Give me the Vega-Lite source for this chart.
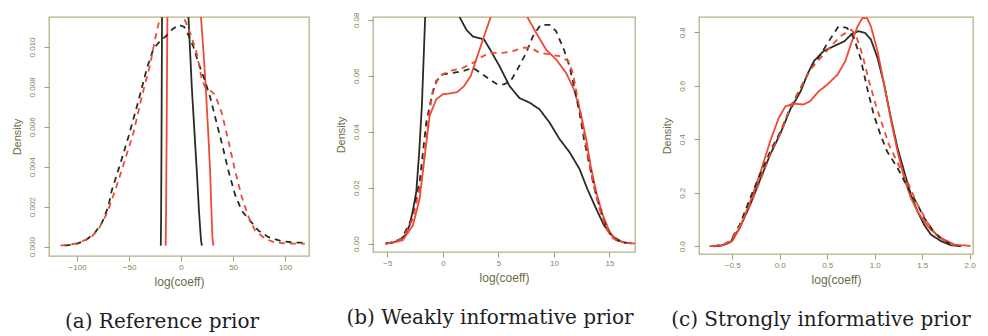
{
  "$schema": "https://vega.github.io/schema/vega-lite/v6.json",
  "background": "white",
  "padding": {"left": 10, "top": 11, "right": 0, "bottom": 0},
  "bounds": "flush",
  "spacing": 64,
  "config": {
    "view": {"stroke": "#b3b386", "strokeWidth": 1.3},
    "font": "Liberation Sans",
    "axis": {"domain": false, "grid": false, "tickColor": "#a0a070", "tickSize": 5, "labelColor": "#85855a", "labelFontSize": 8, "labelFont": "Liberation Sans", "titleColor": "#6b6b48", "titleFontSize": 12, "titleFontWeight": "normal", "titleFont": "Liberation Sans"},
    "axisX": {"labelPadding": 2, "titlePadding": 5},
    "axisY": {"labelAngle": -90, "labelAlign": "center", "labelBaseline": "bottom", "labelPadding": 8, "titlePadding": 6, "titleFontSize": 11},
    "title": {"font": "DejaVu Serif", "fontSize": 20, "fontWeight": "normal", "color": "#1e1e1e", "orient": "bottom", "offset": 25}
  },
  "datasets": {
    "d": [
      {"p":"a","s":"bs","x":-19.5,"y":0.00005},{"p":"a","s":"bs","x":-19.2,"y":0.0015},{"p":"a","s":"bs","x":-18.9,"y":0.0045},{"p":"a","s":"bs","x":-18.6,"y":0.008},{"p":"a","s":"bs","x":-18.3,"y":0.0118},{"p":"a","s":"bs","x":-15,"y":0.022},{"p":"a","s":"bs","x":-5,"y":0.035},{"p":"a","s":"bs","x":3,"y":0.02},{"p":"a","s":"bs","x":7,"y":0.0116},{"p":"a","s":"bs","x":10.3,"y":0.008},{"p":"a","s":"bs","x":12.8,"y":0.0058},{"p":"a","s":"bs","x":15.1,"y":0.0038},{"p":"a","s":"bs","x":17.3,"y":0.0017},{"p":"a","s":"bs","x":19.2,"y":0.0003},{"p":"a","s":"bs","x":20,"y":0.00005},
      {"p":"a","s":"rs","x":-14.8,"y":0.00005},{"p":"a","s":"rs","x":-14.4,"y":0.002},{"p":"a","s":"rs","x":-13.9,"y":0.0055},{"p":"a","s":"rs","x":-13.5,"y":0.009},{"p":"a","s":"rs","x":-13.1,"y":0.0118},{"p":"a","s":"rs","x":-8,"y":0.025},{"p":"a","s":"rs","x":3,"y":0.03},{"p":"a","s":"rs","x":15,"y":0.016},{"p":"a","s":"rs","x":19,"y":0.0116},{"p":"a","s":"rs","x":21.5,"y":0.0098},{"p":"a","s":"rs","x":23.7,"y":0.008},{"p":"a","s":"rs","x":26,"y":0.0058},{"p":"a","s":"rs","x":27.9,"y":0.0038},{"p":"a","s":"rs","x":29.2,"y":0.0018},{"p":"a","s":"rs","x":30.1,"y":0.0005},{"p":"a","s":"rs","x":31,"y":0.00005},
      {"p":"a","s":"bd","x":-112,"y":0.00005},{"p":"a","s":"bd","x":-102,"y":0.00012},{"p":"a","s":"bd","x":-92,"y":0.0003},{"p":"a","s":"bd","x":-82.7,"y":0.0007},{"p":"a","s":"bd","x":-76,"y":0.0012},{"p":"a","s":"bd","x":-70,"y":0.002},{"p":"a","s":"bd","x":-66.7,"y":0.0028},{"p":"a","s":"bd","x":-58.7,"y":0.0041},{"p":"a","s":"bd","x":-50.6,"y":0.0055},{"p":"a","s":"bd","x":-41,"y":0.0073},{"p":"a","s":"bd","x":-33,"y":0.0089},{"p":"a","s":"bd","x":-26.6,"y":0.0099},{"p":"a","s":"bd","x":-20.2,"y":0.0103},{"p":"a","s":"bd","x":-15.4,"y":0.0105},{"p":"a","s":"bd","x":-8,"y":0.0109},{"p":"a","s":"bd","x":-2,"y":0.0111},{"p":"a","s":"bd","x":3,"y":0.011},{"p":"a","s":"bd","x":7,"y":0.0106},{"p":"a","s":"bd","x":11.9,"y":0.01},{"p":"a","s":"bd","x":16.7,"y":0.0092},{"p":"a","s":"bd","x":23,"y":0.0083},{"p":"a","s":"bd","x":27.9,"y":0.0075},{"p":"a","s":"bd","x":32.7,"y":0.0065},{"p":"a","s":"bd","x":39.1,"y":0.0052},{"p":"a","s":"bd","x":45.5,"y":0.0038},{"p":"a","s":"bd","x":51.9,"y":0.0026},{"p":"a","s":"bd","x":58.3,"y":0.0018},{"p":"a","s":"bd","x":66.3,"y":0.0013},{"p":"a","s":"bd","x":74.4,"y":0.0008},{"p":"a","s":"bd","x":84,"y":0.00047},{"p":"a","s":"bd","x":96.8,"y":0.00027},{"p":"a","s":"bd","x":109.6,"y":0.0002},{"p":"a","s":"bd","x":119,"y":0.0002},
      {"p":"a","s":"rd","x":-116,"y":0.00005},{"p":"a","s":"rd","x":-108,"y":0.0001},{"p":"a","s":"rd","x":-98.7,"y":0.00017},{"p":"a","s":"rd","x":-85.9,"y":0.0005},{"p":"a","s":"rd","x":-79,"y":0.0009},{"p":"a","s":"rd","x":-71,"y":0.0017},{"p":"a","s":"rd","x":-63.5,"y":0.0028},{"p":"a","s":"rd","x":-55.4,"y":0.0041},{"p":"a","s":"rd","x":-45.8,"y":0.0057},{"p":"a","s":"rd","x":-37.8,"y":0.0075},{"p":"a","s":"rd","x":-29.8,"y":0.0091},{"p":"a","s":"rd","x":-25,"y":0.0104},{"p":"a","s":"rd","x":-21,"y":0.0113},{"p":"a","s":"rd","x":-16,"y":0.0118},{"p":"a","s":"rd","x":-8,"y":0.0119},{"p":"a","s":"rd","x":-2,"y":0.0118},{"p":"a","s":"rd","x":4,"y":0.0113},{"p":"a","s":"rd","x":8.7,"y":0.0107},{"p":"a","s":"rd","x":15,"y":0.0097},{"p":"a","s":"rd","x":19.9,"y":0.0084},{"p":"a","s":"rd","x":23,"y":0.008},{"p":"a","s":"rd","x":26.3,"y":0.0079},{"p":"a","s":"rd","x":32.7,"y":0.0076},{"p":"a","s":"rd","x":39.1,"y":0.0067},{"p":"a","s":"rd","x":45.5,"y":0.0053},{"p":"a","s":"rd","x":51.9,"y":0.0038},{"p":"a","s":"rd","x":58.3,"y":0.0025},{"p":"a","s":"rd","x":64.7,"y":0.0015},{"p":"a","s":"rd","x":71.2,"y":0.0008},{"p":"a","s":"rd","x":80.8,"y":0.0004},{"p":"a","s":"rd","x":90.4,"y":0.0002},{"p":"a","s":"rd","x":103,"y":0.00015},{"p":"a","s":"rd","x":119,"y":0.00015},

      {"p":"b","s":"bs","x":-5.2,"y":0},{"p":"b","s":"bs","x":-4.5,"y":0.0004},{"p":"b","s":"bs","x":-3.9,"y":0.0013},{"p":"b","s":"bs","x":-3.4,"y":0.003},{"p":"b","s":"bs","x":-3.0,"y":0.0066},{"p":"b","s":"bs","x":-2.7,"y":0.012},{"p":"b","s":"bs","x":-2.4,"y":0.0185},{"p":"b","s":"bs","x":-2.15,"y":0.032},{"p":"b","s":"bs","x":-1.9,"y":0.049},{"p":"b","s":"bs","x":-1.6,"y":0.081},{"p":"b","s":"bs","x":-1.2,"y":0.1},{"p":"b","s":"bs","x":0,"y":0.12},{"p":"b","s":"bs","x":1.0,"y":0.1},{"p":"b","s":"bs","x":1.5,"y":0.081},{"p":"b","s":"bs","x":2.1,"y":0.0765},{"p":"b","s":"bs","x":2.7,"y":0.074},{"p":"b","s":"bs","x":3.7,"y":0.073},{"p":"b","s":"bs","x":4.3,"y":0.069},{"p":"b","s":"bs","x":5.1,"y":0.0634},{"p":"b","s":"bs","x":6.0,"y":0.0563},{"p":"b","s":"bs","x":6.9,"y":0.052},{"p":"b","s":"bs","x":7.8,"y":0.0504},{"p":"b","s":"bs","x":8.7,"y":0.048},{"p":"b","s":"bs","x":9.6,"y":0.0433},{"p":"b","s":"bs","x":10.5,"y":0.0374},{"p":"b","s":"bs","x":11.4,"y":0.0327},{"p":"b","s":"bs","x":12.3,"y":0.0267},{"p":"b","s":"bs","x":13.0,"y":0.0196},{"p":"b","s":"bs","x":13.8,"y":0.0125},{"p":"b","s":"bs","x":14.5,"y":0.0066},{"p":"b","s":"bs","x":15.3,"y":0.0025},{"p":"b","s":"bs","x":16.2,"y":0.0005},{"p":"b","s":"bs","x":17.0,"y":0.0001},
      {"p":"b","s":"rs","x":-5.2,"y":0},{"p":"b","s":"rs","x":-4.4,"y":0.0004},{"p":"b","s":"rs","x":-3.6,"y":0.0013},{"p":"b","s":"rs","x":-2.7,"y":0.0066},{"p":"b","s":"rs","x":-2.1,"y":0.016},{"p":"b","s":"rs","x":-1.6,"y":0.0327},{"p":"b","s":"rs","x":-1.2,"y":0.0457},{"p":"b","s":"rs","x":-0.6,"y":0.0516},{"p":"b","s":"rs","x":0,"y":0.0534},{"p":"b","s":"rs","x":0.7,"y":0.0537},{"p":"b","s":"rs","x":1.3,"y":0.0542},{"p":"b","s":"rs","x":1.9,"y":0.0563},{"p":"b","s":"rs","x":2.5,"y":0.0599},{"p":"b","s":"rs","x":3.1,"y":0.067},{"p":"b","s":"rs","x":3.6,"y":0.0729},{"p":"b","s":"rs","x":4.3,"y":0.081},{"p":"b","s":"rs","x":5,"y":0.088},{"p":"b","s":"rs","x":6,"y":0.092},{"p":"b","s":"rs","x":7,"y":0.087},{"p":"b","s":"rs","x":7.6,"y":0.081},{"p":"b","s":"rs","x":8.4,"y":0.0753},{"p":"b","s":"rs","x":9.3,"y":0.0693},{"p":"b","s":"rs","x":10.2,"y":0.0658},{"p":"b","s":"rs","x":11.1,"y":0.061},{"p":"b","s":"rs","x":11.8,"y":0.0551},{"p":"b","s":"rs","x":12.4,"y":0.0469},{"p":"b","s":"rs","x":12.9,"y":0.0374},{"p":"b","s":"rs","x":13.3,"y":0.028},{"p":"b","s":"rs","x":13.8,"y":0.0185},{"p":"b","s":"rs","x":14.4,"y":0.0102},{"p":"b","s":"rs","x":15.0,"y":0.0043},{"p":"b","s":"rs","x":15.6,"y":0.0013},{"p":"b","s":"rs","x":16.5,"y":0.0002},{"p":"b","s":"rs","x":17.4,"y":0},
      {"p":"b","s":"bd","x":-5.1,"y":0},{"p":"b","s":"bd","x":-4.4,"y":0.0006},{"p":"b","s":"bd","x":-3.7,"y":0.0019},{"p":"b","s":"bd","x":-2.8,"y":0.009},{"p":"b","s":"bd","x":-2.1,"y":0.022},{"p":"b","s":"bd","x":-1.5,"y":0.0433},{"p":"b","s":"bd","x":-1.0,"y":0.0528},{"p":"b","s":"bd","x":-0.6,"y":0.0581},{"p":"b","s":"bd","x":0,"y":0.0605},{"p":"b","s":"bd","x":0.9,"y":0.061},{"p":"b","s":"bd","x":1.8,"y":0.0617},{"p":"b","s":"bd","x":2.7,"y":0.0628},{"p":"b","s":"bd","x":3.4,"y":0.061},{"p":"b","s":"bd","x":4.2,"y":0.0587},{"p":"b","s":"bd","x":4.9,"y":0.0569},{"p":"b","s":"bd","x":5.5,"y":0.0569},{"p":"b","s":"bd","x":6.1,"y":0.0581},{"p":"b","s":"bd","x":6.7,"y":0.0622},{"p":"b","s":"bd","x":7.5,"y":0.0682},{"p":"b","s":"bd","x":8.1,"y":0.0741},{"p":"b","s":"bd","x":8.8,"y":0.0782},{"p":"b","s":"bd","x":9.6,"y":0.0782},{"p":"b","s":"bd","x":10.2,"y":0.0759},{"p":"b","s":"bd","x":10.9,"y":0.0693},{"p":"b","s":"bd","x":11.4,"y":0.0634},{"p":"b","s":"bd","x":11.8,"y":0.0563},{"p":"b","s":"bd","x":12.3,"y":0.0469},{"p":"b","s":"bd","x":12.7,"y":0.0374},{"p":"b","s":"bd","x":13.2,"y":0.028},{"p":"b","s":"bd","x":13.8,"y":0.0173},{"p":"b","s":"bd","x":14.4,"y":0.009},{"p":"b","s":"bd","x":15.0,"y":0.0037},{"p":"b","s":"bd","x":15.6,"y":0.0013},{"p":"b","s":"bd","x":16.5,"y":0.0002},
      {"p":"b","s":"rd","x":-5.1,"y":0},{"p":"b","s":"rd","x":-4.4,"y":0.0006},{"p":"b","s":"rd","x":-3.6,"y":0.0019},{"p":"b","s":"rd","x":-2.7,"y":0.009},{"p":"b","s":"rd","x":-1.9,"y":0.0232},{"p":"b","s":"rd","x":-1.3,"y":0.0445},{"p":"b","s":"rd","x":-0.9,"y":0.0551},{"p":"b","s":"rd","x":-0.3,"y":0.0599},{"p":"b","s":"rd","x":0.6,"y":0.0617},{"p":"b","s":"rd","x":1.8,"y":0.0628},{"p":"b","s":"rd","x":2.7,"y":0.0646},{"p":"b","s":"rd","x":3.6,"y":0.067},{"p":"b","s":"rd","x":4.2,"y":0.0682},{"p":"b","s":"rd","x":5.4,"y":0.0682},{"p":"b","s":"rd","x":6.3,"y":0.0688},{"p":"b","s":"rd","x":7.2,"y":0.07},{"p":"b","s":"rd","x":7.9,"y":0.07},{"p":"b","s":"rd","x":8.7,"y":0.0682},{"p":"b","s":"rd","x":9.6,"y":0.0676},{"p":"b","s":"rd","x":10.5,"y":0.067},{"p":"b","s":"rd","x":11.3,"y":0.0652},{"p":"b","s":"rd","x":11.7,"y":0.0611},{"p":"b","s":"rd","x":12.1,"y":0.0528},{"p":"b","s":"rd","x":12.6,"y":0.0421},{"p":"b","s":"rd","x":13.0,"y":0.0327},{"p":"b","s":"rd","x":13.5,"y":0.022},{"p":"b","s":"rd","x":14.1,"y":0.0125},{"p":"b","s":"rd","x":14.7,"y":0.0054},{"p":"b","s":"rd","x":15.3,"y":0.0019},{"p":"b","s":"rd","x":16.2,"y":0.0005},

      {"p":"c","s":"bs","x":-0.68,"y":0},{"p":"c","s":"bs","x":-0.61,"y":0.003},{"p":"c","s":"bs","x":-0.52,"y":0.015},{"p":"c","s":"bs","x":-0.42,"y":0.069},{"p":"c","s":"bs","x":-0.31,"y":0.156},{"p":"c","s":"bs","x":-0.2,"y":0.255},{"p":"c","s":"bs","x":-0.1,"y":0.343},{"p":"c","s":"bs","x":0.01,"y":0.424},{"p":"c","s":"bs","x":0.11,"y":0.511},{"p":"c","s":"bs","x":0.22,"y":0.579},{"p":"c","s":"bs","x":0.29,"y":0.642},{"p":"c","s":"bs","x":0.36,"y":0.692},{"p":"c","s":"bs","x":0.46,"y":0.729},{"p":"c","s":"bs","x":0.57,"y":0.748},{"p":"c","s":"bs","x":0.68,"y":0.766},{"p":"c","s":"bs","x":0.76,"y":0.794},{"p":"c","s":"bs","x":0.83,"y":0.804},{"p":"c","s":"bs","x":0.9,"y":0.797},{"p":"c","s":"bs","x":0.96,"y":0.773},{"p":"c","s":"bs","x":1.03,"y":0.704},{"p":"c","s":"bs","x":1.1,"y":0.604},{"p":"c","s":"bs","x":1.17,"y":0.48},{"p":"c","s":"bs","x":1.24,"y":0.368},{"p":"c","s":"bs","x":1.31,"y":0.28},{"p":"c","s":"bs","x":1.38,"y":0.193},{"p":"c","s":"bs","x":1.45,"y":0.131},{"p":"c","s":"bs","x":1.52,"y":0.081},{"p":"c","s":"bs","x":1.59,"y":0.044},{"p":"c","s":"bs","x":1.7,"y":0.019},{"p":"c","s":"bs","x":1.8,"y":0.004},{"p":"c","s":"bs","x":1.91,"y":0},
      {"p":"c","s":"rs","x":-0.74,"y":0},{"p":"c","s":"rs","x":-0.59,"y":0.004},{"p":"c","s":"rs","x":-0.5,"y":0.019},{"p":"c","s":"rs","x":-0.42,"y":0.069},{"p":"c","s":"rs","x":-0.31,"y":0.168},{"p":"c","s":"rs","x":-0.2,"y":0.28},{"p":"c","s":"rs","x":-0.1,"y":0.393},{"p":"c","s":"rs","x":-0.01,"y":0.48},{"p":"c","s":"rs","x":0.06,"y":0.523},{"p":"c","s":"rs","x":0.15,"y":0.533},{"p":"c","s":"rs","x":0.25,"y":0.53},{"p":"c","s":"rs","x":0.32,"y":0.542},{"p":"c","s":"rs","x":0.41,"y":0.579},{"p":"c","s":"rs","x":0.5,"y":0.604},{"p":"c","s":"rs","x":0.61,"y":0.642},{"p":"c","s":"rs","x":0.69,"y":0.692},{"p":"c","s":"rs","x":0.76,"y":0.766},{"p":"c","s":"rs","x":0.82,"y":0.822},{"p":"c","s":"rs","x":0.87,"y":0.853},{"p":"c","s":"rs","x":0.92,"y":0.853},{"p":"c","s":"rs","x":0.96,"y":0.822},{"p":"c","s":"rs","x":1.03,"y":0.729},{"p":"c","s":"rs","x":1.1,"y":0.604},{"p":"c","s":"rs","x":1.17,"y":0.474},{"p":"c","s":"rs","x":1.24,"y":0.355},{"p":"c","s":"rs","x":1.31,"y":0.255},{"p":"c","s":"rs","x":1.38,"y":0.181},{"p":"c","s":"rs","x":1.45,"y":0.131},{"p":"c","s":"rs","x":1.52,"y":0.093},{"p":"c","s":"rs","x":1.59,"y":0.062},{"p":"c","s":"rs","x":1.7,"y":0.031},{"p":"c","s":"rs","x":1.84,"y":0.006},{"p":"c","s":"rs","x":2.01,"y":0.001},
      {"p":"c","s":"bd","x":-0.7,"y":0},{"p":"c","s":"bd","x":-0.6,"y":0.005},{"p":"c","s":"bd","x":-0.52,"y":0.019},{"p":"c","s":"bd","x":-0.42,"y":0.081},{"p":"c","s":"bd","x":-0.31,"y":0.181},{"p":"c","s":"bd","x":-0.2,"y":0.274},{"p":"c","s":"bd","x":-0.1,"y":0.355},{"p":"c","s":"bd","x":0.01,"y":0.43},{"p":"c","s":"bd","x":0.11,"y":0.517},{"p":"c","s":"bd","x":0.22,"y":0.592},{"p":"c","s":"bd","x":0.32,"y":0.66},{"p":"c","s":"bd","x":0.43,"y":0.717},{"p":"c","s":"bd","x":0.54,"y":0.779},{"p":"c","s":"bd","x":0.62,"y":0.822},{"p":"c","s":"bd","x":0.71,"y":0.816},{"p":"c","s":"bd","x":0.78,"y":0.779},{"p":"c","s":"bd","x":0.85,"y":0.704},{"p":"c","s":"bd","x":0.92,"y":0.592},{"p":"c","s":"bd","x":0.99,"y":0.492},{"p":"c","s":"bd","x":1.06,"y":0.417},{"p":"c","s":"bd","x":1.13,"y":0.355},{"p":"c","s":"bd","x":1.24,"y":0.293},{"p":"c","s":"bd","x":1.35,"y":0.218},{"p":"c","s":"bd","x":1.45,"y":0.156},{"p":"c","s":"bd","x":1.52,"y":0.106},{"p":"c","s":"bd","x":1.63,"y":0.05},{"p":"c","s":"bd","x":1.73,"y":0.019},{"p":"c","s":"bd","x":1.84,"y":0.004},
      {"p":"c","s":"rd","x":-0.7,"y":0},{"p":"c","s":"rd","x":-0.6,"y":0.005},{"p":"c","s":"rd","x":-0.52,"y":0.019},{"p":"c","s":"rd","x":-0.42,"y":0.075},{"p":"c","s":"rd","x":-0.31,"y":0.156},{"p":"c","s":"rd","x":-0.2,"y":0.249},{"p":"c","s":"rd","x":-0.1,"y":0.343},{"p":"c","s":"rd","x":0.01,"y":0.424},{"p":"c","s":"rd","x":0.11,"y":0.517},{"p":"c","s":"rd","x":0.22,"y":0.592},{"p":"c","s":"rd","x":0.32,"y":0.66},{"p":"c","s":"rd","x":0.43,"y":0.704},{"p":"c","s":"rd","x":0.54,"y":0.748},{"p":"c","s":"rd","x":0.64,"y":0.785},{"p":"c","s":"rd","x":0.75,"y":0.81},{"p":"c","s":"rd","x":0.8,"y":0.791},{"p":"c","s":"rd","x":0.87,"y":0.717},{"p":"c","s":"rd","x":0.94,"y":0.617},{"p":"c","s":"rd","x":1.01,"y":0.53},{"p":"c","s":"rd","x":1.08,"y":0.455},{"p":"c","s":"rd","x":1.15,"y":0.38},{"p":"c","s":"rd","x":1.24,"y":0.312},{"p":"c","s":"rd","x":1.35,"y":0.237},{"p":"c","s":"rd","x":1.45,"y":0.156},{"p":"c","s":"rd","x":1.56,"y":0.087},{"p":"c","s":"rd","x":1.66,"y":0.037},{"p":"c","s":"rd","x":1.77,"y":0.012},{"p":"c","s":"rd","x":1.84,"y":0.004}
    ]
  },
  "hconcat": [
    {
      "width": 260, "height": 239,
      "title": {"text": "(a) Reference prior", "dx": -17},
      "data": {"name": "d"},
      "transform": [{"filter": "datum.p === 'a'"}],
      "mark": {"type": "line", "clip": true},
      "encoding": {
        "x": {"field": "x", "type": "quantitative", "scale": {"domain": [-127, 123], "nice": false, "zero": false}, "axis": {"values": [-100, -50, 0, 50, 100], "title": "log(coeff)"}},
        "y": {"field": "y", "type": "quantitative", "scale": {"domain": [-0.00047, 0.0115], "nice": false, "zero": false}, "axis": {"values": [0, 0.002, 0.004, 0.006, 0.008, 0.01], "format": ".3f", "title": "Density"}},
        "color": {"field": "s", "type": "nominal", "scale": {"domain": ["bs", "rs", "bd", "rd"], "range": ["#2b2b22", "#ef4a35", "#2b2b22", "#ef4a35"]}, "legend": null},
        "strokeDash": {"field": "s", "type": "nominal", "scale": {"domain": ["bs", "rs", "bd", "rd"], "range": [[1, 0], [1, 0], [6, 5], [6, 5]]}, "legend": null},
        "size": {"field": "s", "type": "nominal", "scale": {"domain": ["bs", "rs", "bd", "rd"], "range": [1.8, 1.8, 2.5, 2.5]}, "legend": null}
      }
    },
    {
      "width": 262, "height": 235,
      "title": {"text": "(b) Weakly informative prior", "dx": -14},
      "data": {"name": "d"},
      "transform": [{"filter": "datum.p === 'b'"}],
      "mark": {"type": "line", "clip": true},
      "encoding": {
        "x": {"field": "x", "type": "quantitative", "scale": {"domain": [-6.3, 17.3], "nice": false, "zero": false}, "axis": {"values": [-5, 0, 5, 10, 15], "title": "log(coeff)"}},
        "y": {"field": "y", "type": "quantitative", "scale": {"domain": [-0.003, 0.081], "nice": false, "zero": false}, "axis": {"values": [0, 0.02, 0.04, 0.06, 0.08], "format": ".2f", "title": "Density"}},
        "color": {"field": "s", "type": "nominal", "scale": {"domain": ["bs", "rs", "bd", "rd"], "range": ["#2b2b22", "#ef4a35", "#2b2b22", "#ef4a35"]}, "legend": null},
        "strokeDash": {"field": "s", "type": "nominal", "scale": {"domain": ["bs", "rs", "bd", "rd"], "range": [[1, 0], [1, 0], [6, 5], [6, 5]]}, "legend": null},
        "size": {"field": "s", "type": "nominal", "scale": {"domain": ["bs", "rs", "bd", "rd"], "range": [1.8, 1.8, 2.5, 2.5]}, "legend": null}
      }
    },
    {
      "width": 274, "height": 237,
      "title": {"text": "(c) Strongly informative prior", "dx": -15},
      "data": {"name": "d"},
      "transform": [{"filter": "datum.p === 'c'"}],
      "mark": {"type": "line", "clip": true},
      "encoding": {
        "x": {"field": "x", "type": "quantitative", "scale": {"domain": [-0.85, 2.035], "nice": false, "zero": false}, "axis": {"values": [-0.5, 0, 0.5, 1, 1.5, 2], "format": ".1f", "title": "log(coeff)"}},
        "y": {"field": "y", "type": "quantitative", "scale": {"domain": [-0.029, 0.857], "nice": false, "zero": false}, "axis": {"values": [0, 0.2, 0.4, 0.6, 0.8], "format": ".1f", "title": "Density"}},
        "color": {"field": "s", "type": "nominal", "scale": {"domain": ["bs", "rs", "bd", "rd"], "range": ["#2b2b22", "#ef4a35", "#2b2b22", "#ef4a35"]}, "legend": null},
        "strokeDash": {"field": "s", "type": "nominal", "scale": {"domain": ["bs", "rs", "bd", "rd"], "range": [[1, 0], [1, 0], [6, 5], [6, 5]]}, "legend": null},
        "size": {"field": "s", "type": "nominal", "scale": {"domain": ["bs", "rs", "bd", "rd"], "range": [1.8, 1.8, 2.5, 2.5]}, "legend": null}
      }
    }
  ],
  "resolve": {"scale": {"x": "independent", "y": "independent", "color": "shared"}}
}
